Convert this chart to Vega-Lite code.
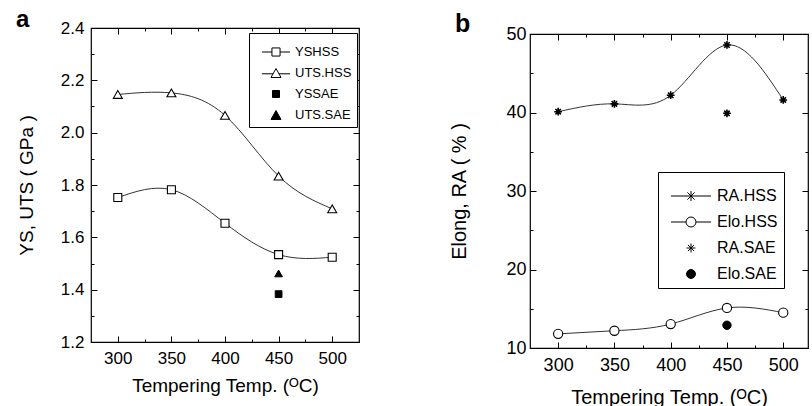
{
  "$schema": "https://vega.github.io/schema/vega-lite/v6.json",
  "background": "white",
  "padding": {"left": 15, "top": 6, "right": 0, "bottom": 0},
  "spacing": 88,
  "datasets": {
    "a": [
      {"t": 300, "v": 1.752, "s": "YSHSS"},
      {"t": 350, "v": 1.782, "s": "YSHSS"},
      {"t": 400, "v": 1.654, "s": "YSHSS"},
      {"t": 450, "v": 1.534, "s": "YSHSS"},
      {"t": 500, "v": 1.524, "s": "YSHSS"},
      {"t": 300, "v": 2.146, "s": "UTS.HSS"},
      {"t": 350, "v": 2.152, "s": "UTS.HSS"},
      {"t": 400, "v": 2.066, "s": "UTS.HSS"},
      {"t": 450, "v": 1.834, "s": "UTS.HSS"},
      {"t": 500, "v": 1.709, "s": "UTS.HSS"},
      {"t": 450, "v": 1.383, "s": "YSSAE"},
      {"t": 450, "v": 1.462, "s": "UTS.SAE"}
    ],
    "b": [
      {"t": 300, "v": 40.1, "s": "RA.HSS"},
      {"t": 350, "v": 41.1, "s": "RA.HSS"},
      {"t": 400, "v": 42.2, "s": "RA.HSS"},
      {"t": 450, "v": 48.6, "s": "RA.HSS"},
      {"t": 500, "v": 41.6, "s": "RA.HSS"},
      {"t": 300, "v": 11.8, "s": "Elo.HSS"},
      {"t": 350, "v": 12.2, "s": "Elo.HSS"},
      {"t": 400, "v": 13.05, "s": "Elo.HSS"},
      {"t": 450, "v": 15.1, "s": "Elo.HSS"},
      {"t": 500, "v": 14.5, "s": "Elo.HSS"},
      {"t": 450, "v": 39.9, "s": "RA.SAE"},
      {"t": 450, "v": 12.9, "s": "Elo.SAE"}
    ],
    "none": []
  },
  "hconcat": [
    {
      "spacing": 0,
      "vconcat": [
        {
          "width": 4,
          "height": 1,
          "data": {"name": "none"},
          "view": {"stroke": null},
          "mark": {"type": "rule"},
          "encoding": {}
        },
        {
          "width": 268,
          "height": 314,
          "title": {"text": "a", "anchor": "start", "frame": "group", "dx": -75, "offset": -32, "baseline": "alphabetic", "fontSize": 24, "fontWeight": "bold", "font": "Liberation Sans", "color": "black"},
          "data": {"name": "a"},
          "layer": [
            {
              "transform": [{"filter": "datum.s === 'YSHSS' || datum.s === 'UTS.HSS'"}],
              "mark": {"type": "line", "interpolate": "natural", "color": "#333", "strokeWidth": 1},
              "encoding": {
                "x": {"field": "t", "type": "quantitative", "scale": {"domain": [275, 525], "nice": false, "zero": false},
                  "axis": {"orient": "bottom", "values": [300, 325, 350, 375, 400, 425, 450, 475, 500], "labelExpr": "datum.value % 50 === 0 ? datum.label : ''",
                    "tickSize": {"condition": {"test": "datum.value % 50 === 0", "value": -6}, "value": -3}, "tickColor": "black", "domain": false, "grid": false,
                    "labelFont": "Liberation Sans", "labelFontSize": 17, "labelColor": "black", "labelPadding": 14, "labelFlush": false,
                    "title": "Tempering Temp. (ᴼC)", "titleFont": "Liberation Sans", "titleFontSize": 19, "titleFontWeight": "normal", "titleColor": "black", "titlePadding": 10}},
                "y": {"field": "v", "type": "quantitative", "scale": {"domain": [1.2, 2.4], "nice": false, "zero": false},
                  "axis": {"orient": "left", "values": [1.2, 1.3, 1.4, 1.5, 1.6, 1.7, 1.8, 1.9, 2.0, 2.1, 2.2, 2.3, 2.4], "format": ".1f", "labelExpr": "round(datum.value * 10) % 2 === 0 ? datum.label : ''",
                    "tickSize": {"condition": {"test": "round(datum.value * 10) % 2 === 0", "value": -6}, "value": -3}, "tickColor": "black", "domain": false, "grid": false,
                    "labelFont": "Liberation Sans", "labelFontSize": 17, "labelColor": "black", "labelPadding": 13, "labelFlush": false,
                    "title": "YS, UTS ( GPa )", "titleFont": "Liberation Sans", "titleFontSize": 19, "titleFontWeight": "normal", "titleColor": "black", "titlePadding": 24}},
                "detail": {"field": "s"}
              }
            },
            {
              "transform": [{"filter": "datum.s === 'YSHSS'"}],
              "mark": {"type": "point", "shape": "square", "filled": true, "fill": "white", "stroke": "black", "strokeWidth": 1.1, "size": 64, "opacity": 1},
              "encoding": {
                "x": {"field": "t", "type": "quantitative", "scale": {"domain": [275, 525], "nice": false, "zero": false},
                  "axis": {"orient": "top", "values": [300, 325, 350, 375, 400, 425, 450, 475, 500], "labels": false, "title": null, "domain": false, "grid": false, "minExtent": 0, "maxExtent": 0,
                    "tickSize": {"condition": {"test": "datum.value % 50 === 0", "value": -6}, "value": -3}, "tickColor": "black"}},
                "y": {"field": "v", "type": "quantitative", "scale": {"domain": [1.2, 2.4], "nice": false, "zero": false},
                  "axis": {"orient": "right", "values": [1.2, 1.3, 1.4, 1.5, 1.6, 1.7, 1.8, 1.9, 2.0, 2.1, 2.2, 2.3, 2.4], "labels": false, "title": null, "domain": false, "grid": false, "minExtent": 0, "maxExtent": 0,
                    "tickSize": {"condition": {"test": "round(datum.value * 10) % 2 === 0", "value": -6}, "value": -3}, "tickColor": "black"}}
              }
            },
            {
              "transform": [{"filter": "datum.s === 'UTS.HSS'"}],
              "mark": {"type": "point", "shape": "triangle-up", "filled": true, "fill": "white", "stroke": "black", "strokeWidth": 1.1, "size": 80, "opacity": 1},
              "encoding": {
                "x": {"field": "t", "type": "quantitative", "scale": {"domain": [275, 525], "nice": false, "zero": false}, "axis": null},
                "y": {"field": "v", "type": "quantitative", "scale": {"domain": [1.2, 2.4], "nice": false, "zero": false}, "axis": null}
              }
            },
            {
              "transform": [{"filter": "datum.s === 'YSSAE'"}],
              "mark": {"type": "point", "shape": "square", "filled": true, "fill": "black", "stroke": "black", "strokeWidth": 1, "size": 45, "opacity": 1},
              "encoding": {
                "x": {"field": "t", "type": "quantitative", "scale": {"domain": [275, 525], "nice": false, "zero": false}, "axis": null},
                "y": {"field": "v", "type": "quantitative", "scale": {"domain": [1.2, 2.4], "nice": false, "zero": false}, "axis": null}
              }
            },
            {
              "transform": [{"filter": "datum.s === 'UTS.SAE'"}],
              "mark": {"type": "point", "shape": "triangle-up", "filled": true, "fill": "black", "stroke": "black", "strokeWidth": 1, "size": 60, "opacity": 1},
              "encoding": {
                "x": {"field": "t", "type": "quantitative", "scale": {"domain": [275, 525], "nice": false, "zero": false}, "axis": null},
                "y": {"field": "v", "type": "quantitative", "scale": {"domain": [1.2, 2.4], "nice": false, "zero": false}, "axis": null}
              }
            },
            {
              "mark": {"type": "point", "filled": false, "opacity": 0},
              "encoding": {
                "shape": {"field": "s", "type": "nominal",
                  "scale": {"domain": ["YSHSS", "UTS.HSS", "YSSAE", "UTS.SAE"],
                    "range": ["M-1.04,0H-0.3M-0.3,-0.3H0.3V0.3H-0.3ZM0.3,0H1.04", "M-1.04,0.06H-0.22M0,-0.33L0.37,0.33H-0.37ZM0.22,0.06H1.04", "M-0.26,-0.26H0.26V0.26H-0.26Z", "M0,-0.33L0.37,0.33H-0.37Z"]},
                  "legend": {"orient": "none", "legendX": 158, "legendY": 5, "title": null, "strokeColor": "black", "fillColor": "white", "padding": 5, "symbolOffset": 8,
                    "labelFont": "Liberation Sans", "labelFontSize": 13, "labelColor": "black", "labelOffset": 5, "rowPadding": 0,
                    "symbolSize": 729, "symbolStrokeWidth": 1, "symbolOpacity": 1}},
                "fill": {"field": "s", "type": "nominal",
                  "scale": {"domain": ["YSHSS", "UTS.HSS", "YSSAE", "UTS.SAE"], "range": ["white", "white", "black", "black"]},
                  "legend": {"orient": "none", "legendX": 158, "legendY": 5, "title": null, "strokeColor": "black", "fillColor": "white", "padding": 5, "symbolOffset": 8,
                    "labelFont": "Liberation Sans", "labelFontSize": 13, "labelColor": "black", "labelOffset": 5, "rowPadding": 0,
                    "symbolSize": 729, "symbolStrokeWidth": 1, "symbolOpacity": 1}},
                "stroke": {"field": "s", "type": "nominal",
                  "scale": {"domain": ["YSHSS", "UTS.HSS", "YSSAE", "UTS.SAE"], "range": ["black", "black", "black", "black"]},
                  "legend": {"orient": "none", "legendX": 158, "legendY": 5, "title": null, "strokeColor": "black", "fillColor": "white", "padding": 5, "symbolOffset": 8,
                    "labelFont": "Liberation Sans", "labelFontSize": 13, "labelColor": "black", "labelOffset": 5, "rowPadding": 0,
                    "symbolSize": 729, "symbolStrokeWidth": 1, "symbolOpacity": 1}}
              }
            }
          ],
          "resolve": {"scale": {"x": "independent", "y": "independent"}, "axis": {"x": "independent", "y": "independent"}}
        }
      ],
      "resolve": {"scale": {"shape": "independent", "fill": "independent", "stroke": "independent"}, "legend": {"shape": "independent", "fill": "independent", "stroke": "independent"}}
    },
    {
      "spacing": 0,
      "vconcat": [
        {
          "width": 4,
          "height": 5,
          "data": {"name": "none"},
          "view": {"stroke": null},
          "mark": {"type": "rule"},
          "encoding": {}
        },
        {
          "width": 278,
          "height": 314,
          "title": {"text": "b", "anchor": "start", "frame": "group", "dx": -75, "offset": -32, "baseline": "alphabetic", "fontSize": 25, "fontWeight": "bold", "font": "Liberation Sans", "color": "black"},
          "data": {"name": "b"},
          "layer": [
            {
              "transform": [{"filter": "datum.s === 'RA.HSS' || datum.s === 'Elo.HSS'"}],
              "mark": {"type": "line", "interpolate": "natural", "color": "#333", "strokeWidth": 1},
              "encoding": {
                "x": {"field": "t", "type": "quantitative", "scale": {"domain": [275, 522], "nice": false, "zero": false},
                  "axis": {"orient": "bottom", "values": [300, 325, 350, 375, 400, 425, 450, 475, 500], "labelExpr": "datum.value % 50 === 0 ? datum.label : ''",
                    "tickSize": {"condition": {"test": "datum.value % 50 === 0", "value": -6}, "value": -3}, "tickColor": "black", "domain": false, "grid": false,
                    "labelFont": "Liberation Sans", "labelFontSize": 18, "labelColor": "black", "labelPadding": 14, "labelFlush": false,
                    "title": "Tempering Temp. (ᴼC)", "titleFont": "Liberation Sans", "titleFontSize": 20, "titleFontWeight": "normal", "titleColor": "black", "titlePadding": 13}},
                "y": {"field": "v", "type": "quantitative", "scale": {"domain": [10, 50], "nice": false, "zero": false},
                  "axis": {"orient": "left", "values": [10, 15, 20, 25, 30, 35, 40, 45, 50], "labelExpr": "datum.value % 10 === 0 ? datum.label : ''",
                    "tickSize": {"condition": {"test": "datum.value % 10 === 0", "value": -6}, "value": -3}, "tickColor": "black", "domain": false, "grid": false,
                    "labelFont": "Liberation Sans", "labelFontSize": 18, "labelColor": "black", "labelPadding": 10, "labelFlush": false,
                    "title": "Elong, RA ( % )", "titleFont": "Liberation Sans", "titleFontSize": 20, "titleFontWeight": "normal", "titleColor": "black", "titlePadding": 36}},
                "detail": {"field": "s"}
              }
            },
            {
              "transform": [{"filter": "datum.s === 'RA.HSS'"}],
              "mark": {"type": "point", "shape": "M-1,0H1M0,-1V1M-0.7,-0.7L0.7,0.7M0.7,-0.7L-0.7,0.7", "filled": false, "stroke": "black", "strokeWidth": 1.6, "size": 60, "opacity": 1},
              "encoding": {
                "x": {"field": "t", "type": "quantitative", "scale": {"domain": [275, 522], "nice": false, "zero": false},
                  "axis": {"orient": "top", "values": [300, 325, 350, 375, 400, 425, 450, 475, 500], "labels": false, "title": null, "domain": false, "grid": false, "minExtent": 0, "maxExtent": 0,
                    "tickSize": {"condition": {"test": "datum.value % 50 === 0", "value": -6}, "value": -3}, "tickColor": "black"}},
                "y": {"field": "v", "type": "quantitative", "scale": {"domain": [10, 50], "nice": false, "zero": false},
                  "axis": {"orient": "right", "values": [10, 15, 20, 25, 30, 35, 40, 45, 50], "labels": false, "title": null, "domain": false, "grid": false, "minExtent": 0, "maxExtent": 0,
                    "tickSize": {"condition": {"test": "datum.value % 10 === 0", "value": -6}, "value": -3}, "tickColor": "black"}}
              }
            },
            {
              "transform": [{"filter": "datum.s === 'Elo.HSS'"}],
              "mark": {"type": "point", "shape": "circle", "filled": true, "fill": "white", "stroke": "black", "strokeWidth": 1.1, "size": 85, "opacity": 1},
              "encoding": {
                "x": {"field": "t", "type": "quantitative", "scale": {"domain": [275, 522], "nice": false, "zero": false}, "axis": null},
                "y": {"field": "v", "type": "quantitative", "scale": {"domain": [10, 50], "nice": false, "zero": false}, "axis": null}
              }
            },
            {
              "transform": [{"filter": "datum.s === 'RA.SAE'"}],
              "mark": {"type": "point", "shape": "M-1,0H1M0,-1V1M-0.7,-0.7L0.7,0.7M0.7,-0.7L-0.7,0.7", "filled": false, "stroke": "black", "strokeWidth": 1.6, "size": 60, "opacity": 1},
              "encoding": {
                "x": {"field": "t", "type": "quantitative", "scale": {"domain": [275, 522], "nice": false, "zero": false}, "axis": null},
                "y": {"field": "v", "type": "quantitative", "scale": {"domain": [10, 50], "nice": false, "zero": false}, "axis": null}
              }
            },
            {
              "transform": [{"filter": "datum.s === 'Elo.SAE'"}],
              "mark": {"type": "point", "shape": "circle", "filled": true, "fill": "black", "stroke": "black", "strokeWidth": 1, "size": 70, "opacity": 1},
              "encoding": {
                "x": {"field": "t", "type": "quantitative", "scale": {"domain": [275, 522], "nice": false, "zero": false}, "axis": null},
                "y": {"field": "v", "type": "quantitative", "scale": {"domain": [10, 50], "nice": false, "zero": false}, "axis": null}
              }
            },
            {
              "mark": {"type": "point", "filled": false, "opacity": 0},
              "encoding": {
                "shape": {"field": "s", "type": "nominal",
                  "scale": {"domain": ["RA.HSS", "Elo.HSS", "RA.SAE", "Elo.SAE"],
                    "range": ["M-1.17,0H1.17M0,-0.29V0.29M-0.21,-0.21L0.21,0.21M0.21,-0.21L-0.21,0.21", "M-1.17,0H-0.29M0.29,0H1.17M-0.29,0A0.29,0.29 0 1,0 0.29,0A0.29,0.29 0 1,0 -0.29,0Z", "M-0.26,0H0.26M0,-0.26V0.26M-0.18,-0.18L0.18,0.18M0.18,-0.18L-0.18,0.18", "M-0.26,0A0.26,0.26 0 1,0 0.26,0A0.26,0.26 0 1,0 -0.26,0Z"]},
                  "legend": {"orient": "none", "legendX": 128, "legendY": 138, "title": null, "strokeColor": "black", "fillColor": "white", "padding": 6, "symbolOffset": 9,
                    "labelFont": "Liberation Sans", "labelFontSize": 16, "labelColor": "black", "labelOffset": 8, "rowPadding": 0,
                    "symbolSize": 1176, "symbolStrokeWidth": 1, "symbolOpacity": 1}},
                "fill": {"field": "s", "type": "nominal",
                  "scale": {"domain": ["RA.HSS", "Elo.HSS", "RA.SAE", "Elo.SAE"], "range": ["white", "white", "black", "black"]},
                  "legend": {"orient": "none", "legendX": 128, "legendY": 138, "title": null, "strokeColor": "black", "fillColor": "white", "padding": 6, "symbolOffset": 9,
                    "labelFont": "Liberation Sans", "labelFontSize": 16, "labelColor": "black", "labelOffset": 8, "rowPadding": 0,
                    "symbolSize": 1176, "symbolStrokeWidth": 1, "symbolOpacity": 1}},
                "stroke": {"field": "s", "type": "nominal",
                  "scale": {"domain": ["RA.HSS", "Elo.HSS", "RA.SAE", "Elo.SAE"], "range": ["black", "black", "black", "black"]},
                  "legend": {"orient": "none", "legendX": 128, "legendY": 138, "title": null, "strokeColor": "black", "fillColor": "white", "padding": 6, "symbolOffset": 9,
                    "labelFont": "Liberation Sans", "labelFontSize": 16, "labelColor": "black", "labelOffset": 8, "rowPadding": 0,
                    "symbolSize": 1176, "symbolStrokeWidth": 1, "symbolOpacity": 1}}
              }
            }
          ],
          "resolve": {"scale": {"x": "independent", "y": "independent"}, "axis": {"x": "independent", "y": "independent"}}
        }
      ],
      "resolve": {"scale": {"shape": "independent", "fill": "independent", "stroke": "independent"}, "legend": {"shape": "independent", "fill": "independent", "stroke": "independent"}}
    }
  ],
  "resolve": {"scale": {"shape": "independent", "fill": "independent", "stroke": "independent"}, "legend": {"shape": "independent", "fill": "independent", "stroke": "independent"}},
  "config": {
    "view": {"stroke": "black", "strokeWidth": 1.2},
    "font": "Liberation Sans"
  }
}
